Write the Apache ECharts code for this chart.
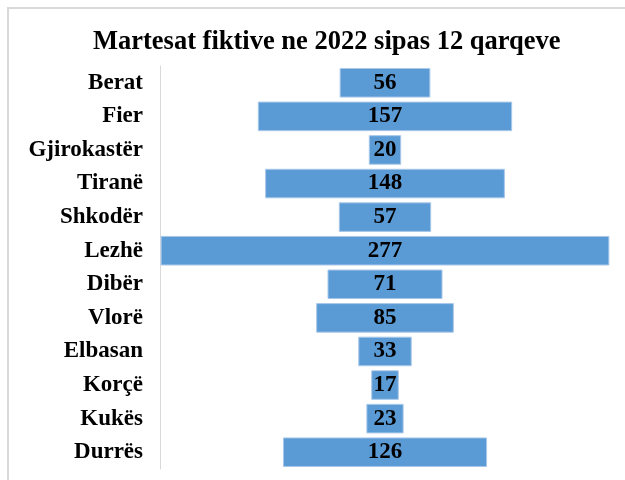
<!DOCTYPE html>
<html>
<head>
<meta charset="utf-8">
<script src="https://cdn.jsdelivr.net/npm/echarts@6/dist/echarts.min.js"></script>
<style>
  html, body { margin: 0; padding: 0; background: #fff; }
  #chart { width: 625px; height: 480px; }
</style>
</head>
<body>
<div id="chart"></div>
<script>
const categories = ['Berat', 'Fier', 'Gjirokastër', 'Tiranë', 'Shkodër', 'Lezhë', 'Dibër', 'Vlorë', 'Elbasan', 'Korçë', 'Kukës', 'Durrës']
const values = [56, 157, 20, 148, 57, 277, 71, 85, 33, 17, 23, 126]

const maxVal = Math.max(...values)
// invisible offset so each bar sits centred on the widest one
const offsets = values.map((v) => (maxVal - v) / 2)

const font = '"Liberation Serif", "DejaVu Serif", serif'

const chart = echarts.init(document.getElementById('chart'))

chart.setOption({
  animation: false,
  title: {
    text: 'Martesat fiktive ne 2022 sipas 12 qarqeve',
    left: 88,
    top: 24,
    textStyle: { fontFamily: font, fontWeight: 'bold', fontSize: 26.5, color: '#000' },
  },
  graphic: [
    {
      type: 'rect',
      shape: { x: 8, y: 8, width: 640, height: 500 },
      style: { fill: 'none', stroke: '#d9d9d9', lineWidth: 2 },
      silent: true,
    },
  ],
  grid: { left: 159, right: 14, top: 66, height: 403 },
  xAxis: {
    type: 'value',
    min: -1,
    max: 278,
    show: false,
  },
  yAxis: {
    type: 'category',
    data: categories,
    inverse: true,
    axisLine: { lineStyle: { color: '#d9d9d9', width: 1 } },
    axisTick: { show: false },
    axisLabel: {
      margin: 16,
      fontFamily: font,
      fontWeight: 'bold',
      fontSize: 23,
      color: '#000',
    },
  },
  series: [
    {
      type: 'bar',
      stack: 'c',
      data: offsets,
      itemStyle: { color: 'transparent' },
      silent: true,
      barCategoryGap: '12%',
    },
    {
      type: 'bar',
      stack: 'c',
      data: values,
      barCategoryGap: '12%',
      itemStyle: { color: '#5b9bd5', borderColor: '#a9c8ea', borderWidth: 1 },
      label: {
        show: true,
        position: 'inside',
        fontFamily: font,
        fontWeight: 'bold',
        fontSize: 23,
        color: '#000',
      },
    },
  ],
})
</script>
</body>
</html>
